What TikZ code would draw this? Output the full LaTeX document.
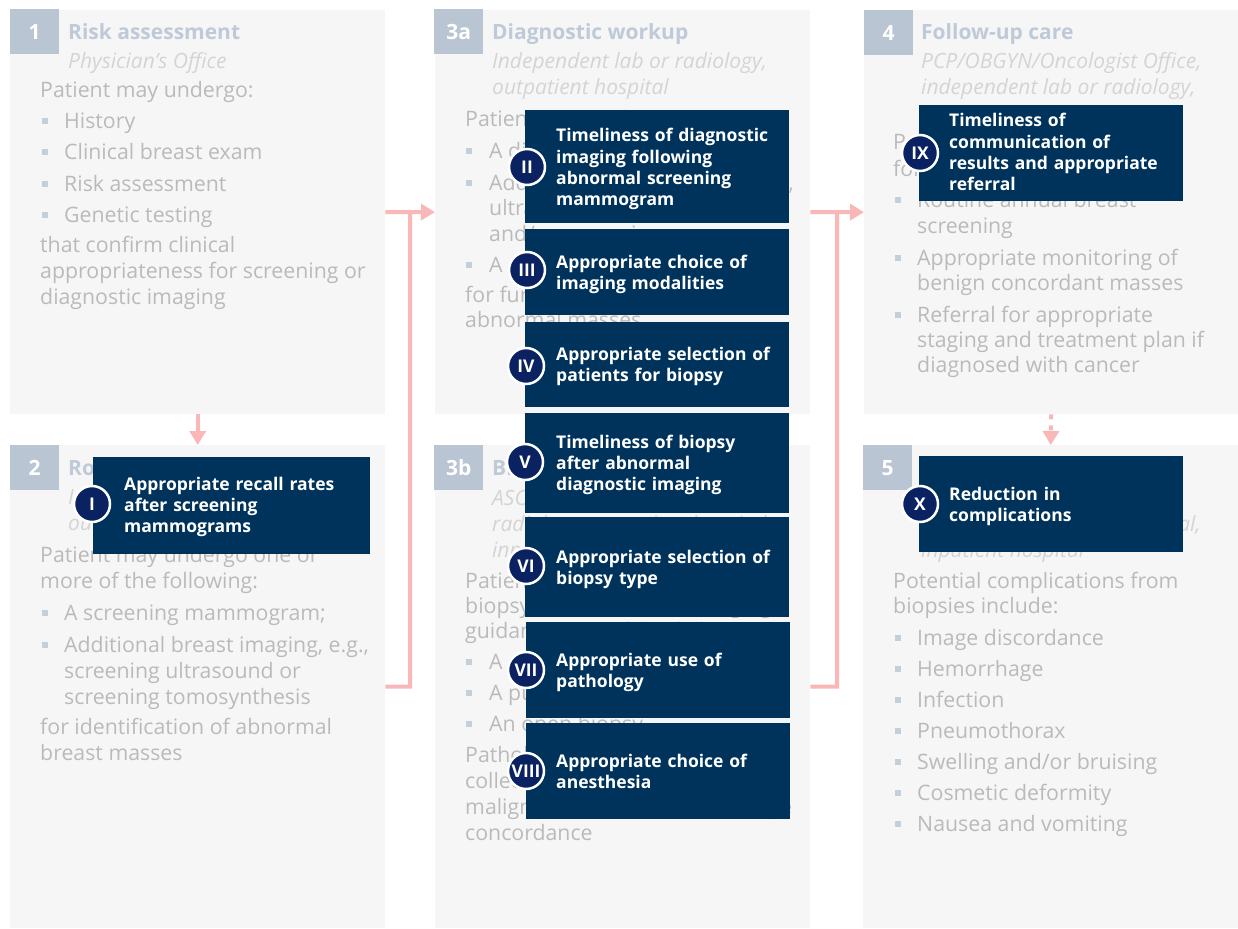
\documentclass[tikz,border=0pt]{standalone}
\usepackage{fontspec}
\setmainfont{Open Sans}
\usetikzlibrary{arrows.meta}
\definecolor{panelbg}{HTML}{F6F6F6}
\definecolor{numcol}{HTML}{B9C5D2}
\definecolor{ttlcol}{HTML}{BFCAD8}
\definecolor{subcol}{HTML}{D4D4D4}
\definecolor{bodycol}{HTML}{BABABA}
\definecolor{bulcol}{HTML}{C5CFDA}
\definecolor{navy}{HTML}{00335B}
\definecolor{circcol}{HTML}{0A2261}
\definecolor{pinkc}{HTML}{F9B7B7}
\newcounter{lnc}
\newcommand\mytl[4][bdy]{\stepcounter{lnc}\node[#1] (t\thelnc) at (#2,#3) {#4};}
\newcommand\mybl[4]{\stepcounter{lnc}\node[bul] (b\thelnc) at (#1,#3-7.5) {};\node[bdy] (t\thelnc) at (#2,#3) {#4};}
\tikzset{
  pnl/.style={fill=panelbg, draw=none, inner sep=0, anchor=north west},
  nbx/.style={fill=numcol, text=white, font=\bfseries\fontsize{21}{25}\selectfont, inner sep=0, anchor=north west, minimum width=49pt, minimum height=45pt},
  ttl/.style={anchor=base west, inner sep=0, text=ttlcol, font=\bfseries\fontsize{21}{25}\selectfont},
  stl/.style={anchor=base west, inner sep=0, text=subcol, font=\itshape\fontsize{21}{25}\selectfont},
  bdy/.style={anchor=base west, inner sep=0, text=bodycol, font=\fontsize{21.3}{25}\selectfont},
  bul/.style={rectangle, fill=bulcol, minimum size=6pt, inner sep=0},
  qbx/.style={fill=navy, inner sep=0, anchor=north west},
  qtx/.style={anchor=base west, inner sep=0, text=white, font=\bfseries\fontsize{17.5}{21.3}\selectfont, text width=260pt, align=left},
  qnm/.style={circle, fill=circcol, draw=white, line width=2.5pt, minimum size=36pt, inner sep=0, text=white, font=\bfseries\fontsize{17.5}{20}\selectfont},
  lnk/.style={draw=pinkc, line width=4pt},
  arw/.style={-{Triangle[width=16pt,length=14pt]}}
}
\begin{document}
\begin{tikzpicture}[x=1pt,y=-1pt,line join=miter]
\useasboundingbox (0,0) rectangle (1238,928);
\fill[white] (0,0) rectangle (1238,928);
% panels
\node[pnl, minimum width=375pt, minimum height=404pt] (p1) at (10,10) {};
\node[pnl, minimum width=375pt, minimum height=483pt] (p2) at (10,445) {};
\node[pnl, minimum width=375pt, minimum height=404pt] (p3a) at (435,10) {};
\node[pnl, minimum width=375pt, minimum height=483pt] (p3b) at (435,445) {};
\node[pnl, minimum width=374pt, minimum height=404pt] (p4) at (864,10) {};
\node[pnl, minimum width=375pt, minimum height=483pt] (p5) at (863,445) {};
% number boxes
\node[nbx] (n1) at (10,9) {1};
\node[nbx] (n2) at (10,445) {2};
\node[nbx] (n3a) at (434,9) {3a};
\node[nbx] (n3b) at (434,445) {3b};
\node[nbx] (n4) at (864,10) {4};
\node[nbx] (n5) at (863,445) {5};
% panel 1
\mytl[ttl]{68}{40}{Risk assessment}
\mytl[stl]{68}{69}{Physician’s Office}
\mytl{40}{98}{Patient may undergo:}
\mybl{45}{64}{129}{History}
\mybl{45}{64}{160}{Clinical breast exam}
\mybl{45}{64}{191}{Risk assessment}
\mybl{45}{64}{222}{Genetic testing}
\mytl{40}{252}{that confirm clinical}
\mytl{40}{278}{appropriateness for screening or}
\mytl{40}{304}{diagnostic imaging}
% panel 2
\mytl[ttl]{68}{475}{Routine screening}
\mytl[stl]{68}{504}{Independent lab or radiology,}
\mytl[stl]{68}{530}{outpatient hospital}
\mytl{40}{562}{Patient may undergo one or}
\mytl{40}{588}{more of the following:}
\mybl{45}{64}{620}{A screening mammogram;}
\mybl{45}{64}{652}{Additional breast imaging, e.g.,}
\mytl{64}{678}{screening ultrasound or}
\mytl{64}{704}{screening tomosynthesis}
\mytl{40}{734}{for identification of abnormal}
\mytl{40}{760}{breast masses}
% panel 3a
\mytl[ttl]{492}{40}{Diagnostic workup}
\mytl[stl]{492}{69}{Independent lab or radiology,}
\mytl[stl]{492}{95}{outpatient hospital}
\mytl{465}{127}{Patient may undergo:}
\mybl{469}{489}{159}{A diagnostic mammogram}
\mybl{469}{489}{190}{Additional breast imaging, e.g.,}
\mytl{489}{215}{ultrasound, MRI,}
\mytl{489}{241}{and/or more views}
\mybl{469}{489}{272}{A consultation}
\mytl{465}{302}{for further evaluation of}
\mytl{465}{327}{abnormal masses}
% panel 3b
\mytl[ttl]{492}{475}{Biopsy}
\mytl[stl]{492}{505}{ASC, independent lab or}
\mytl[stl]{492}{531}{radiology, outpatient hospital,}
\mytl[stl]{492}{557}{inpatient hospital}
\mytl{465}{588}{Patient may undergo a}
\mytl{465}{613}{biopsy with or without imaging}
\mytl{465}{638}{guidance, one of the following:}
\mybl{469}{489}{669}{A core needle biopsy}
\mybl{469}{489}{700}{A punch biopsy}
\mybl{469}{489}{731}{An open biopsy}
\mytl{465}{762}{Pathology specimens are}
\mytl{465}{788}{collected to determine}
\mytl{465}{814}{malignancy and assess for image}
\mytl{465}{840}{concordance}
% panel 4
\mytl[ttl]{921}{40}{Follow-up care}
\mytl[stl]{921}{69}{PCP/OBGYN/Oncologist Office,}
\mytl[stl]{921}{95}{independent lab or radiology,}
\mytl{893}{150}{Patient may be referred}
\mytl{893}{176}{for:}
\mybl{898}{917}{207}{Routine annual breast}
\mytl{917}{233}{screening}
\mybl{898}{917}{265}{Appropriate monitoring of}
\mytl{917}{290}{benign concordant masses}
\mybl{898}{917}{322}{Referral for appropriate}
\mytl{917}{347}{staging and treatment plan if}
\mytl{917}{372}{diagnosed with cancer}
% panel 5
\mytl[stl]{921}{531}{radiology, outpatient hospital,}
\mytl[stl]{921}{557}{inpatient hospital}
\mytl{893}{588}{Potential complications from}
\mytl{893}{613}{biopsies include:}
\mybl{898}{917}{645}{Image discordance}
\mybl{898}{917}{676}{Hemorrhage}
\mybl{898}{917}{707}{Infection}
\mybl{898}{917}{738}{Pneumothorax}
\mybl{898}{917}{769}{Swelling and/or bruising}
\mybl{898}{917}{800}{Cosmetic deformity}
\mybl{898}{917}{831}{Nausea and vomiting}
% connectors
\coordinate (j1) at (410,212);
\coordinate (j2) at (837,212);
\draw[lnk] (p1.east) -- (j1);
\draw[lnk,arw] (p2.east) -| (j1) -- (p3a.west);
\draw[lnk] (p3a.east) -- (j2);
\draw[lnk,arw] (p3b.east) -| (j2) -- (p4.west);
\draw[lnk,arw] (p1.south) -- (p2.north);
\draw[lnk,arw,dash pattern=on 5pt off 6pt] (p4.south) -- (p5.north);
% measure boxes
\node[qbx, minimum width=277pt, minimum height=97pt] (q1) at (93,457) {};
\node[qtx] (q1t) at (124,490) {Appropriate recall rates\\after screening\\mammograms};
\node[qnm] (c1) at (92,504) {I};
\node[qbx, minimum width=264pt, minimum height=113pt] (q2) at (525,110) {};
\node[qtx] (q2t) at (556,142) {Timeliness of diagnostic\\imaging following\\abnormal screening\\mammogram};
\node[qnm] (c2) at (527,167) {II};
\node[qbx, minimum width=264pt, minimum height=86pt] (q3) at (525,229) {};
\node[qtx] (q3t) at (556,268) {Appropriate choice of\\imaging modalities};
\node[qnm] (c3) at (527,270) {III};
\node[qbx, minimum width=264pt, minimum height=85pt] (q4) at (525,322) {};
\node[qtx] (q4t) at (556,360) {Appropriate selection of\\patients for biopsy};
\node[qnm] (c4) at (526,366) {IV};
\node[qbx, minimum width=264pt, minimum height=100pt] (q5) at (525,413) {};
\node[qtx] (q5t) at (556,448) {Timeliness of biopsy\\after abnormal\\diagnostic imaging};
\node[qnm] (c5) at (525,462) {V};
\node[qbx, minimum width=264pt, minimum height=100pt] (q6) at (525,517) {};
\node[qtx] (q6t) at (556,563) {Appropriate selection of\\biopsy type};
\node[qnm] (c6) at (526,566) {VI};
\node[qbx, minimum width=264pt, minimum height=96pt] (q7) at (526,622) {};
\node[qtx] (q7t) at (556,666) {Appropriate use of\\pathology};
\node[qnm] (c7) at (526,670) {VII};
\node[qbx, minimum width=264pt, minimum height=96pt] (q8) at (526,723) {};
\node[qtx] (q8t) at (556,767) {Appropriate choice of\\anesthesia};
\node[qnm] (c8) at (526,771) {VIII};
\node[qbx, minimum width=264pt, minimum height=96pt] (q9) at (919,105) {};
\node[qtx] (q9t) at (949,127) {Timeliness of\\communication of\\results and appropriate\\referral};
\node[qnm] (c9) at (920,153) {IX};
\node[qbx, minimum width=264pt, minimum height=96pt] (q10) at (919,456) {};
\node[qtx] (q10t) at (949,500) {Reduction in\\complications};
\node[qnm] (c10) at (920,504) {X};
\end{tikzpicture}
\end{document}
